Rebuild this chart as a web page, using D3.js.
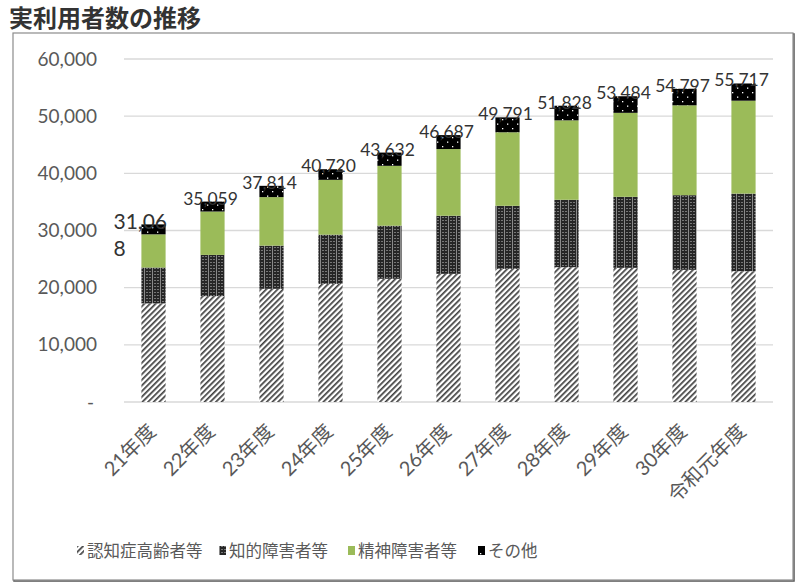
<!DOCTYPE html>
<html><head><meta charset="utf-8">
<script src="https://cdn.jsdelivr.net/npm/d3@7"></script>
<style>
body{margin:0;background:#fff;}
svg{display:block;font-family:"Lato","Noto Sans CJK JP",sans-serif;}
</style></head>
<body><svg id="c" width="800" height="587"></svg>
<script>
const title = "実利用者数の推移";
const categories = ["21年度","22年度","23年度","24年度","25年度","26年度","27年度","28年度","29年度","30年度","令和元年度"];
const seriesNames = ["認知症高齢者等","知的障害者等","精神障害者等","その他"];
const dementia     = [17250,18520,19800,20670,21550,22420,23290,23580,23470,23120,22880];
const intellectual = [6270,7210,7550,8600,9290,10160,11030,11790,12420,13060,13580];
const mental       = [5808,7589,8494,9590,10472,11667,12861,13898,14694,15717,16247];
const other        = [1740,1740,1970,1860,2320,2440,2610,2560,2900,2900,3010];
const totals       = [31068,35059,37814,40720,43632,46687,49791,51828,53484,54797,55717];
const yTicks = [0,10000,20000,30000,40000,50000,60000];

const svg = d3.select("#c");
const defs = svg.append("defs");

// patterns
const p1 = defs.append("pattern").attr("id","pDem").attr("patternUnits","userSpaceOnUse")
  .attr("width",4).attr("height",4).attr("patternTransform","rotate(45)");
p1.append("rect").attr("width",4).attr("height",4).attr("fill","#fff");
p1.append("rect").attr("width",1.7).attr("height",4).attr("fill","#404040");

const p2 = defs.append("pattern").attr("id","pInt").attr("patternUnits","userSpaceOnUse")
  .attr("width",8).attr("height",3);
p2.append("rect").attr("width",8).attr("height",3).attr("fill","#262626");
p2.append("rect").attr("x",0).attr("y",0).attr("width",1).attr("height",3).attr("fill","#8a8a8a");
p2.append("rect").attr("x",2.5).attr("y",1).attr("width",1).attr("height",1).attr("fill","#c8c8c8");
p2.append("rect").attr("x",5.5).attr("y",1).attr("width",1).attr("height",1).attr("fill","#c8c8c8");

const p4 = defs.append("pattern").attr("id","pOth").attr("patternUnits","userSpaceOnUse")
  .attr("width",10).attr("height",9);
p4.append("rect").attr("width",10).attr("height",9).attr("fill","#000");
p4.append("rect").attr("x",2).attr("y",2).attr("width",1.3).attr("height",1.3).attr("fill","#fff");
p4.append("rect").attr("x",7).attr("y",6.5).attr("width",1.3).attr("height",1.3).attr("fill","#fff");

const fills = ["url(#pDem)","url(#pInt)","#9bbb59","url(#pOth)"];

// frame
svg.append("rect").attr("x",14).attr("y",34).attr("width",780).attr("height",547)
  .attr("fill","none").attr("stroke","#555").attr("stroke-width",1.5);
svg.append("rect").attr("x",13).attr("y",33).attr("width",780).attr("height",547)
  .attr("fill","#fff").attr("stroke","#8c8c8c").attr("stroke-width",1.2);

// title
svg.append("text").attr("x",9).attr("y",27).text(title)
  .attr("font-size",24).attr("font-weight","bold").attr("fill","#333")
  .attr("font-family","'Noto Sans CJK JP',sans-serif");

const x = d3.scaleBand().domain(categories).range([124,773]).paddingInner(0.59).paddingOuter(0.295);
const y = d3.scaleLinear().domain([0,60000]).range([402,59]);

// gridlines
svg.append("g").selectAll("line").data(yTicks).join("line")
  .attr("x1",124).attr("x2",773).attr("y1",d=>y(d)).attr("y2",d=>y(d))
  .attr("stroke","#d9d9d9").attr("stroke-width",1.3);

// y axis
const yAxis = svg.append("g").attr("transform","translate(124,0)")
  .call(d3.axisLeft(y).tickValues(yTicks).tickSize(0).tickPadding(27)
    .tickFormat(d=> d===0 ? "-" : d3.format(",")(d)));
yAxis.select(".domain").remove();
yAxis.selectAll("text").attr("font-size",19).attr("fill","#595959")
  .attr("font-family","Lato,sans-serif")
  .attr("dx",d=> d===0 ? -3 : 0);

// stacked data
const rows = categories.map((c,i)=>({cat:c,"認知症高齢者等":dementia[i],"知的障害者等":intellectual[i],"精神障害者等":mental[i],"その他":other[i]}));
const stack = d3.stack().keys(seriesNames)(rows);

svg.append("g").selectAll("g").data(stack).join("g")
  .attr("fill",(d,i)=>fills[i])
  .selectAll("rect").data(d=>d).join("rect")
  .attr("x",d=>x(d.data.cat)).attr("width",x.bandwidth())
  .attr("y",d=>y(d[1])).attr("height",d=>y(d[0])-y(d[1]));

// value labels
const lab = svg.append("g").attr("font-family","Lato,sans-serif").attr("fill","#333");
categories.forEach((c,i)=>{
  const cx = x(c)+x.bandwidth()/2;
  const top = y(totals[i]);
  const s = d3.format(",")(totals[i]);
  if(i===0){
    const t = lab.append("text").attr("font-size",21).attr("x",cx-40).attr("y",top+5);
    t.append("tspan").text(s.slice(0,5));
    t.append("tspan").attr("x",cx-40).attr("dy",27).text(s.slice(5));
  } else {
    lab.append("text").attr("font-size",17.5).attr("text-anchor","middle")
      .attr("x",cx-2).attr("y",top+3).text(s);
  }
});

// x labels
svg.append("g").selectAll("text").data(categories).join("text")
  .attr("transform",d=>`translate(${x(d)+x.bandwidth()/2-7},${422}) rotate(-45)`)
  .attr("text-anchor","end").attr("dy","0.75em")
  .attr("font-size",20).attr("fill","#595959")
  .attr("font-family","Lato,'Noto Sans CJK JP',sans-serif")
  .text(d=>d);

// legend
const legX = [77,219,348,478];
const leg = svg.append("g");
seriesNames.forEach((n,i)=>{
  const g = leg.append("g").attr("transform",`translate(${legX[i]},551)`);
  g.append("rect").attr("x",0).attr("y",-5).attr("width",7).attr("height",9).attr("fill",fills[i]);
  g.append("text").attr("x",10).attr("y",0).attr("dy","0.36em")
    .attr("font-size",16.5).attr("fill","#595959")
    .attr("font-family","'Noto Sans CJK JP',sans-serif").text(n);
});
</script></body></html>
